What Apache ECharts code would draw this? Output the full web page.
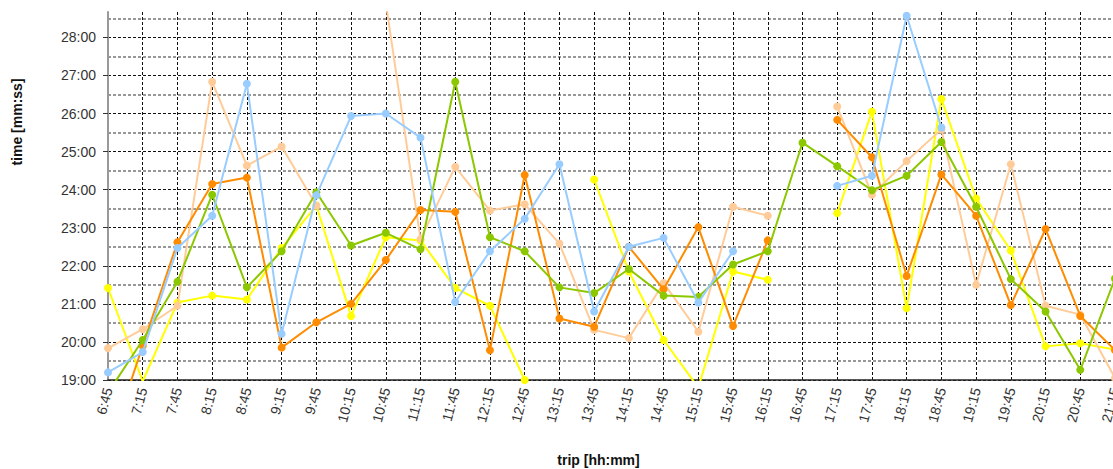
<!DOCTYPE html>
<html>
<head>
<meta charset="utf-8">
<script src="https://cdn.jsdelivr.net/npm/echarts@6/dist/echarts.min.js"></script>
<style>
html,body{margin:0;padding:0;background:#fff;}
#chart{width:1113px;height:469px;}
</style>
</head>
<body>
<div id="chart"></div>
<script>
// Categories (trip start time)
const trips = ['6:45','7:15','7:45','8:15','8:45','9:15','9:45','10:15','10:45','11:15','11:45','12:15','12:45','13:15','13:45','14:15','14:45','15:15','15:45','16:15','16:45','17:15','17:45','18:15','18:45','19:15','19:45','20:15','20:45','21:15'];

// Travel times (mm:ss), null = no trip
const blueTimes   = ['19:12','19:44','22:28','23:19','26:47','20:13','23:51','25:56','26:00','25:22','21:03','22:23','23:14','24:40','20:48','22:30','22:44','21:02','22:23',null,null,'24:06','24:22','28:34','25:38',null,null,null,null,null];
const peachTimes  = ['19:50','20:20','20:57','26:50','24:38','25:08','23:35',null,'28:55','22:42','24:36','23:27','23:37','22:35','20:19','20:06','21:33','20:16','23:33','23:19',null,'26:11','23:52','24:45','25:35','21:30','24:40','20:57','20:43','19:03'];
const orangeTimes = ['17:10','19:54','22:37','24:09','24:19','19:51','20:31','21:00','22:09','23:28','23:25','19:47','24:23','20:37','20:24','22:30','21:23','23:01','20:25','22:40',null,'25:50','24:51','21:44','24:24','23:19','20:58','22:58','20:41','19:47'];
const greenTimes  = ['18:40','20:03','21:35','23:52','21:26','22:23','23:56','22:32','22:52','22:26','26:50','22:45','22:23','21:26','21:17','21:55','21:13','21:11','22:02','22:23','25:14','24:37','23:59','24:22','25:15','23:33','21:39','20:48','19:16','21:40'];
const yellowTimes = ['21:25','18:58','21:02','21:13','21:07','22:28','23:35','20:41','22:45','22:40','21:25','20:57','19:00',null,'24:16','21:51','20:03','18:48','21:51','21:38',null,'23:23','26:03','20:53','26:23','23:46','22:24','19:53','19:58','19:48'];

// Y axis range (seconds)
const yMin = 1140;  // 19:00
const yMax = 1720;  // 28:40

function toSec(s){ if(s===null) return null; const p=s.split(':'); return (+p[0])*60+(+p[1]); }
function fmt(v){ const m=Math.floor(v/60), s=Math.round(v-m*60); return m+':'+(s<10?'0':'')+s; }

const chart = echarts.init(document.getElementById('chart'), null, {renderer:'svg'});

function mkSeries(name, arr, color, z){
  return {
    name: name, type:'line', data: arr.map(toSec), z: z,
    symbol:'circle', symbolSize:8, clip:true,
    lineStyle:{color:color, width:2},
    itemStyle:{color:color},
    emphasis:{disabled:true}, animation:false
  };
}

const nTicks = Math.floor((yMax-yMin)/60)+1;
const splitColors = [];
for(let i=0;i<nTicks;i++) splitColors.push('#111');
splitColors.push('rgba(0,0,0,0)');

chart.setOption({
  animation:false,
  backgroundColor:'#fff',
  grid:{left:108, right:-2, top:12, bottom:89, containLabel:false, outerBoundsMode:'none'},
  xAxis:{
    type:'category', data:trips, boundaryGap:false,
    axisLine:{show:true, lineStyle:{color:'#222', width:1.5}},
    axisTick:{show:false},
    axisLabel:{rotate:75, fontSize:14, color:'#333', margin:8, fontFamily:'Liberation Sans, Arial, sans-serif', interval:0},
    splitLine:{show:true, lineStyle:{color:'#111', type:[3,2], width:1}},
    name:'trip [hh:mm]', nameLocation:'middle', nameGap:73,
    nameTextStyle:{fontSize:14, fontWeight:'bold', color:'#111', fontFamily:'Liberation Sans, Arial, sans-serif', padding:[0,26,0,0]}
  },
  yAxis:{
    type:'value', min:yMin, max:yMax, interval:60,
    axisLine:{show:true, lineStyle:{color:'#999', width:2}},
    axisTick:{show:true, length:5, lineStyle:{color:'#333'}},
    axisLabel:{formatter:fmt, fontSize:14, color:'#333', margin:12, showMaxLabel:false, fontFamily:'Liberation Sans, Arial, sans-serif'},
    splitLine:{show:true, lineStyle:{color:splitColors, type:[3,2], width:1}},
    minorTick:{show:false, splitNumber:2},
    minorSplitLine:{show:true, lineStyle:{color:'#777', type:[3,2], width:1.5}},
    name:'time [mm:ss]', nameLocation:'middle', nameRotate:90, nameGap:84,
    nameTextStyle:{fontSize:14, fontWeight:'bold', color:'#111', fontFamily:'Liberation Sans, Arial, sans-serif', padding:[0,0,0,148]}
  },
  series:[
    mkSeries('yellow', yellowTimes, '#FFFF00', 2),
    mkSeries('peach', peachTimes, '#FFCC99', 3),
    mkSeries('orange', orangeTimes, '#FF8C00', 4),
    mkSeries('green', greenTimes, '#8CC800', 5),
    mkSeries('blue', blueTimes, '#99CCFF', 6)
  ]
});
</script>
</body>
</html>
